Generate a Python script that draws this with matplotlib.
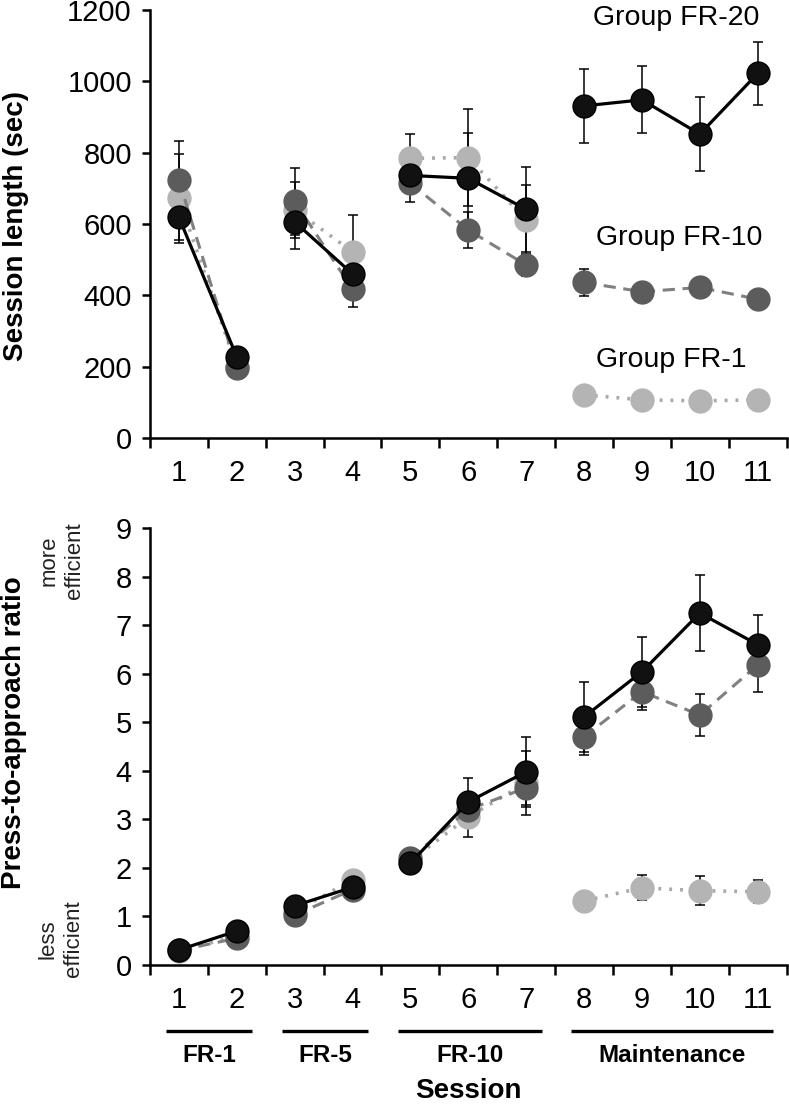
import numpy as np
import matplotlib
matplotlib.use('Agg')
import matplotlib.pyplot as plt

plt.rcParams['font.family'] = ['Liberation Sans', 'DejaVu Sans']

# sessions and training phases
sessions = np.arange(1, 12)
phase_names = ['FR-1', 'FR-5', 'FR-10', 'Maintenance']
phase_first = [1, 3, 5, 8]
phase_last = [2, 4, 7, 11]

group_names = ['Group FR-1', 'Group FR-10', 'Group FR-20']

# session length (sec)
len_fr1 = [672, 200, 640, 522, 784, 786, 611, 121, 107, 104, 107]
len_fr10 = [723, 196, 663, 417, 714, 583, 485, 436, 410, 422, 389]
len_fr20 = [619, 228, 606, 460, 736, 728, 641, 931, 948, 852, 1022]
len_err_fr1 = [125, 15, 78, 103, 67, 135, 97, 10, 10, 10, 10]
len_err_fr10 = [110, 15, 93, 50, 53, 51, 30, 38, 15, 25, 15]
len_err_fr20 = [65, 20, 75, 40, 40, 128, 120, 103, 94, 103, 88]

# press-to-approach ratio
ratio_fr1 = [0.28, 0.60, 1.10, 1.75, 2.15, 3.05, 3.75, 1.32, 1.59, 1.53, 1.51]
ratio_fr10 = [0.30, 0.55, 1.03, 1.55, 2.20, 3.20, 3.65, 4.70, 5.63, 5.15, 6.18]
ratio_fr20 = [0.31, 0.70, 1.22, 1.60, 2.10, 3.36, 3.98, 5.11, 6.04, 7.25, 6.60]
ratio_err_fr1 = [0.05, 0.05, 0.05, 0.12, 0.05, 0.41, 0.65, 0.05, 0.26, 0.30, 0.24]
ratio_err_fr10 = [0.05, 0.05, 0.05, 0.05, 0.05, 0.15, 0.35, 0.37, 0.37, 0.43, 0.55]
ratio_err_fr20 = [0.05, 0.05, 0.05, 0.05, 0.05, 0.49, 0.72, 0.72, 0.72, 0.78, 0.60]

styles = [
    dict(color='#a9a9a9', mfc='#b4b4b4', mec='#b4b4b4', ls=(0, (0.8, 2.2)), lw=2.6, z=2),
    dict(color='#808080', mfc='#5c5c5c', mec='#5c5c5c', ls=(0, (4, 2.5)), lw=2.2, z=2.2),
    dict(color='black', mfc='#111111', mec='black', ls='-', lw=2.3, z=4),
]


def draw_panel(ax, values, errors):
    for y, e, st in zip(values, errors, styles):
        y = np.asarray(y, dtype=float)
        ax.errorbar(sessions, y, yerr=e, fmt='none', ecolor='black',
                    elinewidth=1.1, capsize=3.6, capthick=1.1, zorder=1.5,
                    clip_on=False)
        for a, b in zip(phase_first, phase_last):
            m = (sessions >= a) & (sessions <= b)
            ax.plot(sessions[m], y[m], color=st['color'], ls=st['ls'],
                    lw=st['lw'], marker='o', ms=16.5, mfc=st['mfc'],
                    mec=st['mec'], mew=1, zorder=st['z'], clip_on=False)
    for s in ['top', 'right']:
        ax.spines[s].set_visible(False)
    for s in ['left', 'bottom']:
        ax.spines[s].set_linewidth(1.8)
    ax.set_xlim(0.5, 11.5)
    ax.set_xticks(sessions)
    ax.set_xticks(np.arange(0.5, 12, 1), minor=True)
    ax.tick_params(axis='x', which='major', length=0, pad=15, labelsize=21)
    ax.tick_params(axis='x', which='minor', length=7, width=1.8)
    ax.tick_params(axis='y', length=6, width=1.8, pad=7, labelsize=21)
    ax.tick_params(axis='y', which='minor', length=0)


fig = plt.figure(figsize=(7.89, 11.06), dpi=100)
ax1 = fig.add_axes([0.190, 0.604, 0.807, 0.387])
ax2 = fig.add_axes([0.190, 0.1275, 0.807, 0.395])

draw_panel(ax1, [len_fr1, len_fr10, len_fr20],
           [len_err_fr1, len_err_fr10, len_err_fr20])
ax1.set_ylim(0, 1200)
ax1.set_yticks(np.arange(0, 1201, 200))

draw_panel(ax2, [ratio_fr1, ratio_fr10, ratio_fr20],
           [ratio_err_fr1, ratio_err_fr10, ratio_err_fr20])
ax2.set_ylim(0, 9)
ax2.set_yticks(np.arange(0, 10, 1))

# group labels in the top panel
for name, x, y in zip(group_names[::-1], [9.6, 9.65, 9.5], [1177, 561, 219]):
    ax1.text(x, y, name, ha='center', va='center', fontsize=20.5,
             clip_on=False)

fig.text(16 / 789, 1 - 226 / 1106, 'Session length (sec)', rotation=90,
         ha='center', va='center', fontsize=20, fontweight='bold')
fig.text(14 / 789, 1 - 733 / 1106, 'Press-to-approach ratio', rotation=90,
         ha='center', va='center', fontsize=20, fontweight='bold')
fig.text(62 / 789, 1 - 561 / 1106, 'more\nefficient', rotation=90,
         ha='center', va='center', fontsize=16, color='#222222',
         multialignment='center', linespacing=1.3)
fig.text(61 / 789, 1 - 939 / 1106, 'less\nefficient', rotation=90,
         ha='center', va='center', fontsize=16, color='#222222',
         multialignment='center', linespacing=1.3)

# phase bars under the bottom panel
for name, a, b in zip(phase_names, phase_first, phase_last):
    ax2.plot([a - 0.22, b + 0.27], [-1.36, -1.36], color='black', lw=2.4,
             clip_on=False, solid_capstyle='butt')
    ax2.text((a - 0.22 + b + 0.27) / 2, -1.86, name, ha='center',
             va='center', fontsize=17.5, fontweight='bold')
ax2.text(6, -2.6, 'Session', ha='center', va='center', fontsize=20,
         fontweight='bold')

fig.savefig('out.png', dpi=100)
